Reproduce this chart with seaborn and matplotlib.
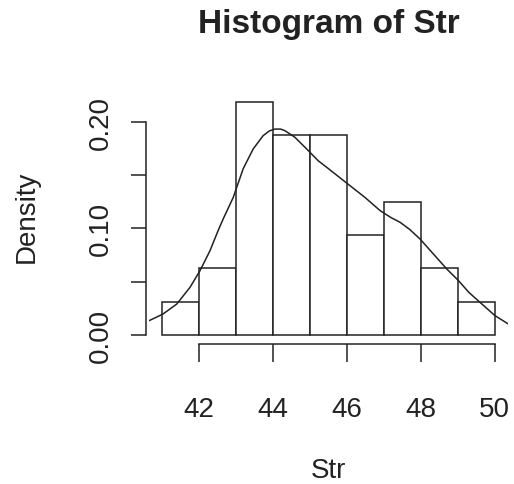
import matplotlib
matplotlib.use("Agg")
import matplotlib.pyplot as plt
import seaborn as sns

# Histogram data (density scale), bins of width 1 from 41 to 50
bin_edges = [41, 42, 43, 44, 45, 46, 47, 48, 49, 50]
bin_density = [0.03125, 0.0625, 0.21875, 0.1875, 0.1875, 0.09375, 0.125, 0.0625, 0.03125]

# Kernel density curve
curve_x = [40.64, 41.02, 41.39, 41.75, 42.02, 42.29, 42.51, 42.65, 42.92, 43.19, 43.46,
           43.73, 43.9, 44.05, 44.2, 44.32, 44.59, 44.91, 45.22, 45.5, 45.99, 46.49,
           46.9, 47.2, 47.44, 47.7, 47.98, 48.34, 48.7, 49.02, 49.3, 49.6, 50.01, 50.37]
curve_y = [0.0134, 0.0197, 0.029, 0.0447, 0.0603, 0.079, 0.0978, 0.109, 0.129, 0.156, 0.1745,
           0.187, 0.1915, 0.1932, 0.1932, 0.1917, 0.1855, 0.1745, 0.1635, 0.156, 0.1426, 0.129,
           0.1166, 0.110, 0.1057, 0.099, 0.090, 0.076, 0.062, 0.051, 0.040, 0.0307, 0.0181, 0.0103]

x_ticks = [42, 44, 46, 48, 50]
y_ticks = [0.00, 0.05, 0.10, 0.15, 0.20]
y_tick_labels = ["0.00", "", "0.10", "", "0.20"]

plt.rcParams['font.family'] = ['Liberation Sans', 'DejaVu Sans']

fig = plt.figure(figsize=(5.14, 4.85), dpi=100)
ax = fig.add_axes([0.2899, 0.288, 0.6984, 0.5192])

mids = [(a + b) / 2 for a, b in zip(bin_edges[:-1], bin_edges[1:])]
sns.histplot(x=mids, weights=bin_density, bins=bin_edges, stat='count',
             color='white', edgecolor='#222222', linewidth=1.1, alpha=1, ax=ax)
sns.lineplot(x=curve_x, y=curve_y, color='#222222', linewidth=1.1, ax=ax, sort=False)

ax.set_xlim(40.64, 50.36)
ax.set_ylim(-0.00875, 0.2275)

for s in ['top', 'right']:
    ax.spines[s].set_visible(False)
ax.spines['bottom'].set_bounds(42, 50)
ax.spines['left'].set_bounds(0, 0.20)
ax.spines['bottom'].set_position(('outward', 0))
ax.spines['left'].set_position(('outward', 2))
for s in ['bottom', 'left']:
    ax.spines[s].set_linewidth(1.1)
    ax.spines[s].set_color('#222222')

ax.set_xticks(x_ticks)
ax.set_xticklabels([str(t) for t in x_ticks])
ax.set_yticks(y_ticks)
ax.set_yticklabels(y_tick_labels)
ax.tick_params(axis='x', length=13, width=1.1, color='#222222', pad=24,
               labelsize=20, labelcolor='#222222')
ax.tick_params(axis='y', length=11, width=1.1, color='#222222', pad=12,
               labelsize=20, labelcolor='#222222', labelrotation=90)
for lab in ax.get_yticklabels():
    lab.set_va('center')

ax.set_xlabel('Str', fontsize=20, color='#222222')
ax.xaxis.label.set_va('baseline')
ax.xaxis.set_label_coords(0.5, -0.527)
ax.set_ylabel('Density', fontsize=20, color='#222222')
ax.yaxis.label.set_va('center')
ax.yaxis.set_label_coords(-0.34, 0.5095)

fig.text(328.5 / 514, 1 - 33 / 485, 'Histogram of Str', ha='center', va='baseline',
         fontsize=24, fontweight='bold', color='#222222')

fig.savefig('out.png', dpi=100)
